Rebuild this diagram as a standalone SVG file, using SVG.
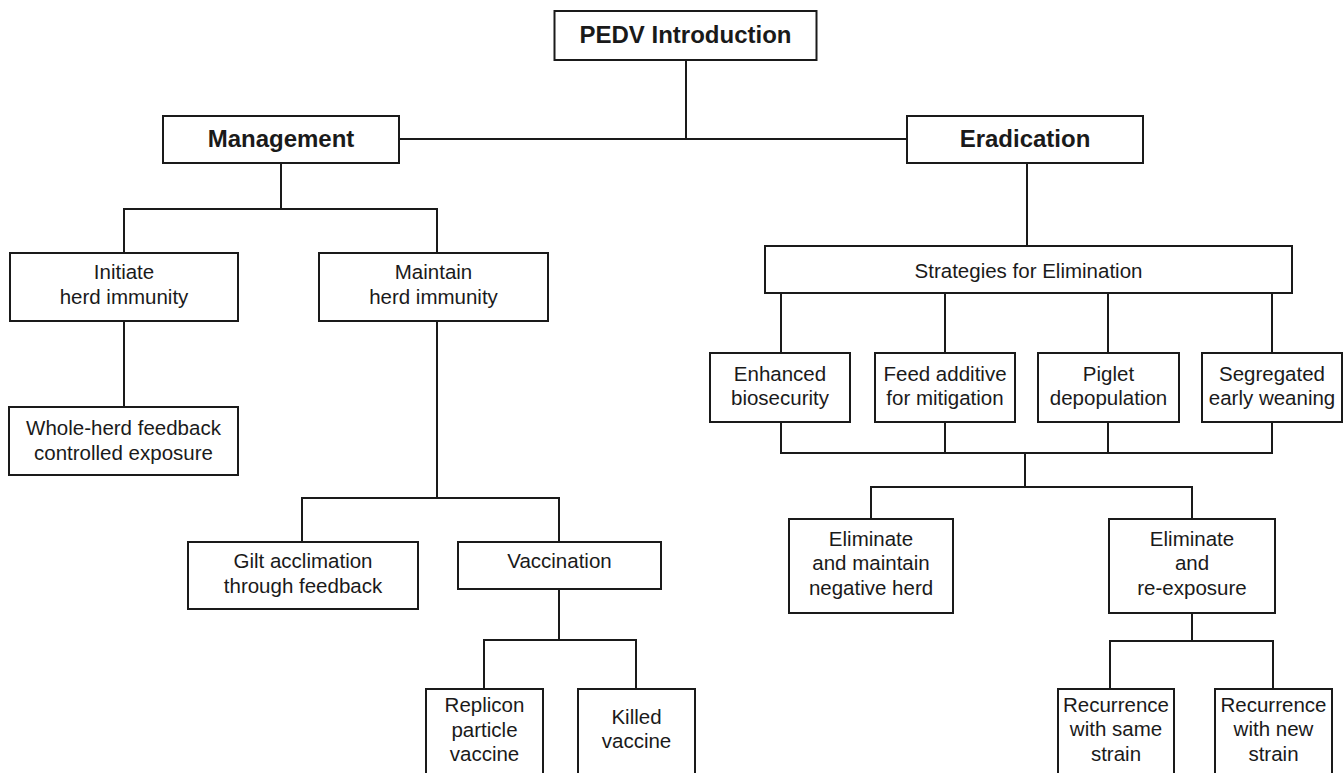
<svg xmlns="http://www.w3.org/2000/svg" width="1343" height="773" viewBox="0 0 1343 773">
<style>
.box{fill:#fff;stroke:#1a1a1a;stroke-width:2}
.c{fill:none;stroke:#1a1a1a;stroke-width:2}
text{font-family:"Liberation Sans",Arial,sans-serif;font-size:20.5px;fill:#1a1a1a;text-anchor:middle}
.b{font-weight:bold;font-size:24px}
</style>
<rect width="1343" height="773" fill="#fff"/>
<g id="connectors">
<path class="c" d="M686 60V139M399 139H907"/>
<path class="c" d="M281 163V209M124 253V209H437V253"/>
<path class="c" d="M124 321V407"/>
<path class="c" d="M437 321V498M302 542V498H559V542"/>
<path class="c" d="M559 589V640M484 689V640H636V689"/>
<path class="c" d="M1027 163V246"/>
<path class="c" d="M781 293V353M945 293V353M1108 293V353M1272 293V353"/>
<path class="c" d="M781 422V453H1272V422M945 422V453M1108 422V453"/>
<path class="c" d="M1025 453V487M871 519V487H1192V519"/>
<path class="c" d="M1192 613V641M1110 689V641H1273V689"/>
</g>
<g id="pedv"><rect class="box" x="554.5" y="11" width="262" height="49"/><text class="b" x="685.5" y="43">PEDV Introduction</text></g>
<g id="management"><rect class="box" x="163" y="116" width="236" height="47"/><text class="b" x="281" y="147">Management</text></g>
<g id="eradication"><rect class="box" x="907" y="116" width="236" height="47"/><text class="b" x="1025" y="147">Eradication</text></g>
<g id="initiate"><rect class="box" x="10" y="253" width="228" height="68"/><text x="124" y="279">Initiate</text><text x="124" y="304">herd immunity</text></g>
<g id="maintain"><rect class="box" x="319" y="253" width="229" height="68"/><text x="433.5" y="279">Maintain</text><text x="433.5" y="304">herd immunity</text></g>
<g id="wholeherd"><rect class="box" x="9" y="407" width="229" height="68"/><text x="123.5" y="435">Whole-herd feedback</text><text x="123.5" y="460">controlled exposure</text></g>
<g id="gilt"><rect class="box" x="188" y="542" width="230" height="67"/><text x="303" y="568">Gilt acclimation</text><text x="303" y="593">through feedback</text></g>
<g id="vaccination"><rect class="box" x="458" y="542" width="203" height="47"/><text x="559.5" y="568">Vaccination</text></g>
<g id="replicon"><rect class="box" x="426" y="689" width="117" height="120"/><text x="484.5" y="712">Replicon</text><text x="484.5" y="737">particle</text><text x="484.5" y="761">vaccine</text></g>
<g id="killed"><rect class="box" x="578" y="689" width="117" height="120"/><text x="636.5" y="724">Killed</text><text x="636.5" y="748">vaccine</text></g>
<g id="strategies"><rect class="box" x="765" y="246" width="527" height="47"/><text x="1028.5" y="278">Strategies for Elimination</text></g>
<g id="enhanced"><rect class="box" x="710" y="353" width="140" height="69"/><text x="780" y="381">Enhanced</text><text x="780" y="405">biosecurity</text></g>
<g id="feed"><rect class="box" x="875" y="353" width="140" height="69"/><text x="945" y="381">Feed additive</text><text x="945" y="405">for mitigation</text></g>
<g id="piglet"><rect class="box" x="1038" y="353" width="141" height="69"/><text x="1108.5" y="381">Piglet</text><text x="1108.5" y="405">depopulation</text></g>
<g id="segregated"><rect class="box" x="1202" y="353" width="140" height="69"/><text x="1272" y="381">Segregated</text><text x="1272" y="405">early weaning</text></g>
<g id="elim-maintain"><rect class="box" x="789" y="519" width="164" height="94"/><text x="871" y="546">Eliminate</text><text x="871" y="570">and maintain</text><text x="871" y="595">negative herd</text></g>
<g id="elim-reexposure"><rect class="box" x="1109" y="519" width="166" height="94"/><text x="1192" y="546">Eliminate</text><text x="1192" y="570">and</text><text x="1192" y="595">re-exposure</text></g>
<g id="recur-same"><rect class="box" x="1058" y="689" width="116" height="120"/><text x="1116" y="712">Recurrence</text><text x="1116" y="736">with same</text><text x="1116" y="761">strain</text></g>
<g id="recur-new"><rect class="box" x="1215" y="689" width="117" height="120"/><text x="1273.5" y="712">Recurrence</text><text x="1273.5" y="736">with new</text><text x="1273.5" y="761">strain</text></g>
</svg>
